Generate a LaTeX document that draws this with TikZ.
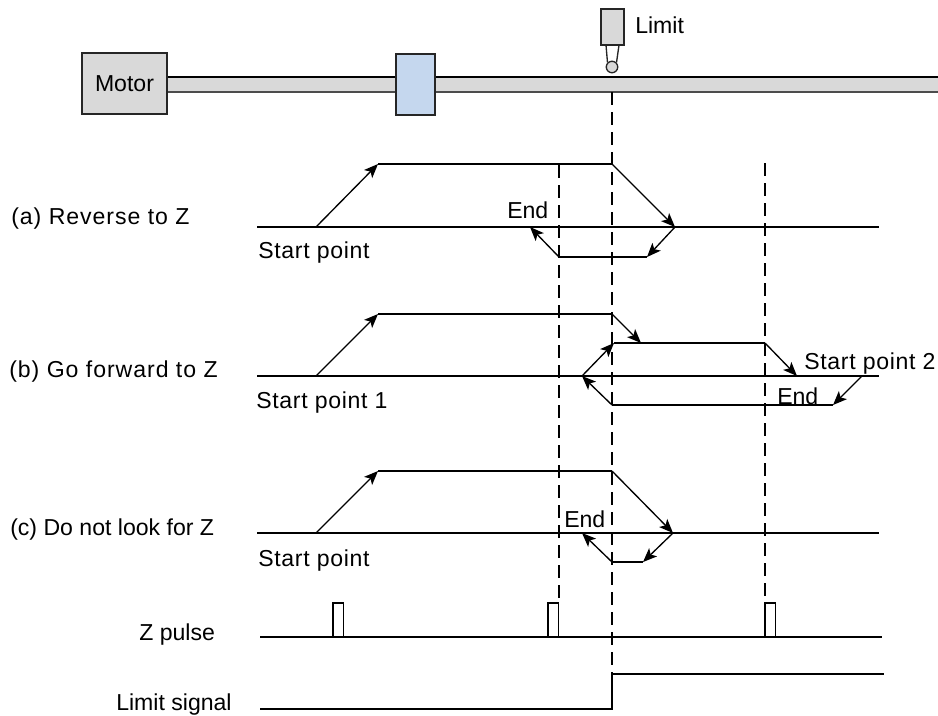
\documentclass[tikz,border=0pt]{standalone}
\usepackage{fontspec}
\setmainfont{Liberation Sans}
\usepackage[dvipsnames,svgnames,x11names]{xcolor}
\usetikzlibrary{arrows.meta,positioning}
\definecolor{partgray}{HTML}{D9D9D9}
\definecolor{partblue}{HTML}{C5D7EE}
\newcommand{\diagfont}{\fontsize{17.3pt}{20pt}\selectfont}
\tikzset{
  lbl/.style={inner sep=0pt,anchor=base west,text=black},
  lblwide/.style={lbl,font={\diagfont\addfontfeature{LetterSpace=3}}},
  lblcase/.style={lbl,font={\diagfont\addfontfeature{LetterSpace=4.2}}},
  partbox/.style={rectangle,draw=black!85,line width=1.2pt,inner sep=0pt,fill=partgray},
  trace/.style={draw=black,line width=1pt},
  move/.style={->,draw=black,line width=1pt},
  guide/.style={draw=black,line width=1pt,dash pattern=on 10pt off 5pt}
}
\begin{document}
\begin{tikzpicture}[x=0.75pt,y=-0.75pt,font=\diagfont,>={Stealth[length=10.5pt,width=8.5pt,inset=2.5pt]}]
\useasboundingbox (0,0) rectangle (938,715);
% machine
\coordinate (shaftA) at (167,77);
\coordinate (shaftB) at (938,77);
\coordinate (shaftC) at (167,92);
\coordinate (shaftD) at (938,92);
\fill[partgray] (shaftA) rectangle (shaftD);
\draw[draw=black,line width=1.3pt] (shaftA) -- (shaftB);
\draw[draw=black!70,line width=0.8pt] (shaftC) -- (shaftD);
\node[partbox,minimum width=63.7pt,minimum height=45.7pt] (motor) at (124.5,83.5) {Motor};
\node[partbox,fill=partblue,minimum width=29pt,minimum height=45.7pt] (slider) at (415.5,84.5) {};
\node[partbox,minimum width=17pt,minimum height=27pt] (limitbox) at (612.5,27) {};
\node[partbox,circle,minimum size=8.6pt,line width=1pt] (limitball) at (612,67) {};
\coordinate (taperL) at (606,45);
\coordinate (taperR) at (619,45);
\draw[draw=black!85,line width=1pt] (taperL) -- (limitball.north west) (taperR) -- (limitball.north east);
\node[lbl] (limitlbl) at (635,33) {Limit};
% guide lines
\coordinate (gA) at (559,165);
\coordinate (gB) at (612,92);
\coordinate (gC) at (765,163);
\coordinate (gAe) at (559,603);
\coordinate (gBe) at (612,674);
\coordinate (gCe) at (765,603);
\draw[guide] (gA) -- (gAe);
\draw[guide] (gB) -- (gBe);
\draw[guide] (gC) -- (gCe);
% (a)
\node[lblcase] (lblA) at (11,224) {(a) Reverse to Z};
\node[lblwide] (startA) at (258,258) {Start point};
\node[lbl] (endA) at (507,218) {End};
\coordinate (a0) at (257,227);
\coordinate (a1) at (316,227);
\coordinate (a2) at (378,164);
\coordinate (a3) at (612,164);
\coordinate (a4) at (675,227);
\coordinate (a5) at (879,227);
\coordinate (a6) at (647,257);
\coordinate (a7) at (559,257);
\coordinate (a8) at (530,227);
\draw[trace] (a0) -- (a5);
\draw[move] (a1) -- (a2);
\draw[trace] (a2) -- (a3);
\draw[move] (a3) -- (a4);
\draw[move] (a4) -- (a6);
\draw[trace] (a6) -- (a7);
\draw[move] (a7) -- (a8);
% (b)
\node[lblcase] (lblB) at (9,377) {(b) Go forward to Z};
\node[lblwide] (startB) at (256,408) {Start point 1};
\node[lblwide] (startBb) at (804,369) {Start point 2};
\node[lbl] (endB) at (777,404) {End};
\coordinate (b0) at (257,376);
\coordinate (b1) at (316,376);
\coordinate (b2) at (378,314);
\coordinate (b3) at (612,314);
\coordinate (b4) at (641,343);
\coordinate (b5) at (765,343);
\coordinate (b6) at (797,376);
\coordinate (b7) at (879,376);
\coordinate (b8) at (862,376);
\coordinate (b9) at (833,405);
\coordinate (b10) at (612,405);
\coordinate (b11) at (582,376);
\coordinate (b12) at (614,343);
\draw[trace] (b0) -- (b7);
\draw[move] (b1) -- (b2);
\draw[trace] (b2) -- (b3);
\draw[move] (b3) -- (b4);
\draw[trace] (b12) -- (b5);
\draw[move] (b5) -- (b6);
\draw[move] (b8) -- (b9);
\draw[trace] (b9) -- (b10);
\draw[move] (b10) -- (b11);
\draw[move] (b11) -- (b12);
% (c)
\node[lbl] (lblC) at (10,535) {(c) Do not look for Z};
\node[lblwide] (startC) at (258,566) {Start point};
\node[lbl] (endC) at (564,527) {End};
\coordinate (c0) at (257,533);
\coordinate (c1) at (316,533);
\coordinate (c2) at (378,471);
\coordinate (c3) at (612,471);
\coordinate (c4) at (673,533);
\coordinate (c5) at (879,533);
\coordinate (c6) at (643,562);
\coordinate (c7) at (612,562);
\coordinate (c8) at (582,533);
\draw[trace] (c0) -- (c5);
\draw[move] (c1) -- (c2);
\draw[trace] (c2) -- (c3);
\draw[move] (c3) -- (c4);
\draw[move] (c4) -- (c6);
\draw[trace] (c6) -- (c7);
\draw[move] (c7) -- (c8);
% Z pulse
\node[lbl] (lblZ) at (139,640) {Z pulse};
\coordinate (z0) at (260,637);
\coordinate (z1) at (882,637);
\draw[trace] (z0) -- (z1);
\foreach \x in {333,548,765}{
  \draw[trace] (\x,637) -- ++(0,-34) -- ++(10.5,0) -- ++(0,34);
}
% limit signal
\node[lbl] (lblL) at (116,710) {Limit signal};
\coordinate (s0) at (260,709);
\coordinate (s1) at (612,709);
\coordinate (s2) at (612,674);
\coordinate (s3) at (884,674);
\draw[trace] (s0) -- (s1) -- (s2) -- (s3);
\end{tikzpicture}
\end{document}
